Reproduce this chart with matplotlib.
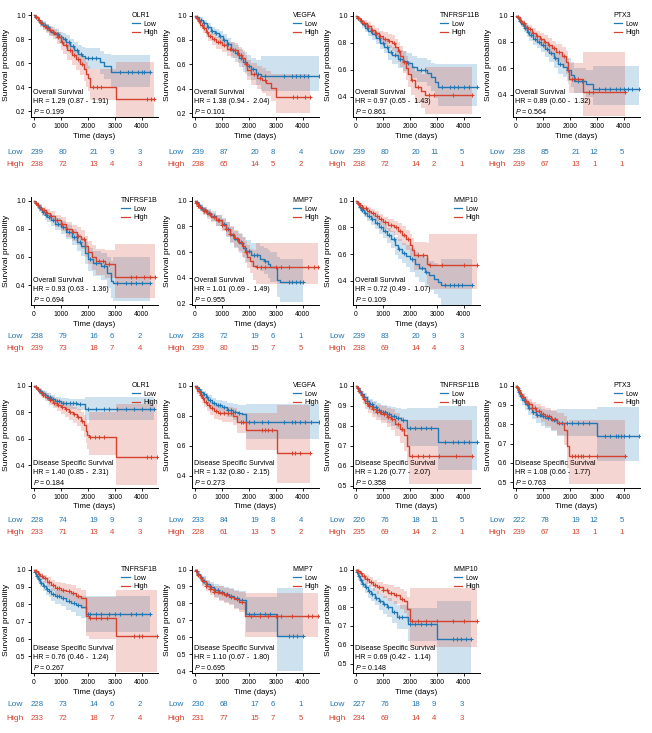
import numpy as np
import matplotlib
matplotlib.use("Agg")
import matplotlib.pyplot as plt
from matplotlib.lines import Line2D
from matplotlib.ticker import MultipleLocator, FormatStrFormatter

plt.rcParams["font.family"] = ["Liberation Sans", "DejaVu Sans"]
plt.rcParams["mathtext.fontset"] = "custom"
plt.rcParams["mathtext.it"] = "Liberation Sans:italic"
plt.rcParams["mathtext.rm"] = "Liberation Sans"

LOW_C = "#2278b5"
HIGH_C = "#d4432f"

GENES = ["OLR1", "VEGFA", "TNFRSF11B", "PTX3", "TNFRSF1B", "MMP7", "MMP10"]
ENDPOINTS = ["Overall Survival", "Disease Specific Survival"]

# HR (ci low, ci high), p
HR_OS = [("1.29", "0.87", "1.91"), ("1.38", "0.94", "2.04"), ("0.97", "0.65", "1.43"),
         ("0.89", "0.60", "1.32"), ("0.93", "0.63", "1.36"), ("1.01", "0.69", "1.49"),
         ("0.72", "0.49", "1.07")]
P_OS = ["0.199", "0.101", "0.861", "0.564", "0.694", "0.955", "0.109"]
HR_DSS = [("1.40", "0.85", "2.31"), ("1.32", "0.80", "2.15"), ("1.26", "0.77", "2.07"),
          ("1.08", "0.66", "1.77"), ("0.76", "0.46", "1.24"), ("1.10", "0.67", "1.80"),
          ("0.69", "0.42", "1.14")]
P_DSS = ["0.184", "0.273", "0.358", "0.763", "0.267", "0.695", "0.148"]

# numbers at risk at 0/1000/2000/3000/4000 days
RISK_OS_LOW = [[239, 80, 21, 9, 3], [239, 87, 20, 8, 4], [239, 80, 20, 11, 5], [238, 85, 21, 12, 5],
               [238, 79, 16, 6, 2], [238, 72, 19, 6, 1], [239, 83, 20, 9, 3]]
RISK_OS_HIGH = [[238, 72, 13, 4, 3], [238, 65, 14, 5, 2], [238, 72, 14, 2, 1], [239, 67, 13, 1, 1],
                [239, 73, 18, 7, 4], [239, 80, 15, 7, 5], [238, 69, 14, 4, 3]]
RISK_DSS_LOW = [[228, 74, 19, 9, 3], [233, 84, 19, 8, 4], [226, 76, 18, 11, 5], [222, 78, 19, 12, 5],
                [228, 73, 14, 6, 2], [230, 68, 17, 6, 1], [227, 76, 18, 9, 3]]
RISK_DSS_HIGH = [[233, 71, 13, 4, 3], [228, 61, 13, 5, 2], [235, 69, 14, 2, 1], [239, 67, 13, 1, 1],
                 [233, 72, 18, 7, 4], [231, 77, 15, 7, 5], [234, 69, 14, 4, 3]]

# axis bottoms / tick steps per panel
YLO_OS = [0.15, 0.17, 0.25, 0.23, 0.26, 0.19, 0.22]
YLO_DSS = [0.23, 0.32, 0.49, 0.47, 0.405, 0.39, 0.45]
YSTEP_OS = [0.2] * 7
YSTEP_DSS = [0.2, 0.2, 0.1, 0.1, 0.1, 0.1, 0.1]

# ---- KM steps: (time, surv, ci_lo, ci_hi); censor times ----
OS_OLR1_LOW = [(0, 1, 1, 1), (60, .985, .97, 1), (150, .965, .94, .985), (250, .94, .91, .965), (350, .92, .89, .95),
               (450, .90, .865, .93), (550, .88, .84, .915), (650, .865, .825, .90), (800, .845, .80, .885),
               (950, .82, .77, .865), (1100, .80, .745, .85), (1200, .78, .72, .835), (1350, .745, .68, .805),
               (1500, .715, .645, .78), (1650, .68, .60, .755), (1800, .66, .575, .74), (1900, .64, .55, .725),
               (2450, .61, .51, .705), (2600, .575, .47, .68), (2850, .53, .40, .67)]
OS_OLR1_LOW_CENS = [100, 200, 300, 420, 520, 600, 700, 850, 900, 1000, 1150, 1300, 1450, 1600, 1750, 2000, 2150,
                    2300, 3200, 3500, 3650, 3850, 4000, 4100, 4300]
OS_OLR1_HIGH = [(0, 1, 1, 1), (60, .985, .97, 1), (150, .96, .935, .985), (250, .935, .905, .96), (350, .915, .88, .945),
                (450, .895, .855, .93), (550, .875, .83, .91), (700, .85, .80, .89), (850, .82, .765, .865),
                (1000, .78, .715, .835), (1100, .75, .68, .81), (1250, .71, .63, .78), (1400, .67, .585, .745),
                (1550, .635, .545, .715), (1700, .595, .50, .68), (1850, .55, .45, .64), (1950, .51, .405, .61),
                (2020, .475, .37, .58), (2080, .405, .29, .55), (3050, .30, .15, .61)]
OS_OLR1_HIGH_CENS = [80, 180, 280, 400, 500, 620, 750, 900, 1050, 1200, 1350, 1500, 1650, 1800, 2200, 2350, 2500,
                     4200, 4330, 4450]

OS_VEGFA_LOW = [(0, 1, 1, 1), (60, .985, .97, 1), (150, .965, .945, .985), (300, .935, .91, .96), (450, .905, .875, .935),
                (600, .875, .84, .91), (750, .855, .815, .89), (900, .83, .785, .87), (1050, .80, .75, .845),
                (1200, .765, .71, .815), (1350, .72, .655, .78), (1500, .69, .62, .755), (1650, .655, .58, .725),
                (1800, .62, .54, .70), (1950, .59, .505, .675), (2100, .56, .47, .655), (2270, .525, .43, .64),
                (2450, .505, .38, .67)]
OS_VEGFA_LOW_CENS = [100, 220, 350, 500, 650, 800, 950, 1100, 1250, 1400, 1550, 1700, 1850, 2000, 2150, 2350, 2600,
                     3300, 3600, 3750, 3900, 4050, 4200, 4600]
OS_VEGFA_HIGH = [(0, 1, 1, 1), (50, .98, .965, .995), (120, .955, .93, .975), (200, .925, .895, .95), (300, .895, .86, .925),
                 (400, .865, .825, .90), (500, .835, .79, .875), (650, .805, .755, .85), (800, .78, .73, .825),
                 (1000, .755, .70, .805), (1200, .73, .67, .785), (1400, .715, .65, .775), (1600, .68, .61, .745),
                 (1750, .65, .575, .72), (1850, .60, .52, .68), (1950, .555, .47, .64), (2100, .52, .43, .61),
                 (2300, .49, .40, .585), (2500, .47, .37, .57), (2650, .445, .34, .55), (2820, .41, .30, .525),
                 (3000, .33, .20, .52)]
OS_VEGFA_HIGH_CENS = [80, 160, 260, 350, 450, 550, 700, 850, 950, 1100, 1300, 1500, 1700, 1900, 2200, 2400, 2600,
                      3650, 3800, 4100, 4250]

OS_TNFRSF11B_LOW = [(0, 1, 1, 1), (60, .985, .97, 1), (150, .96, .94, .98), (250, .935, .91, .96), (350, .91, .88, .94),
                    (450, .885, .85, .915), (600, .86, .82, .895), (750, .835, .79, .875), (900, .80, .755, .845),
                    (1050, .77, .72, .82), (1200, .73, .67, .785), (1350, .705, .64, .765), (1550, .68, .61, .745),
                    (1750, .665, .59, .735), (1880, .65, .57, .725), (2100, .62, .535, .70), (2250, .60, .51, .685),
                    (2650, .575, .48, .67), (2800, .545, .44, .65), (2950, .51, .39, .645), (3050, .47, .33, .645)]
OS_TNFRSF11B_LOW_CENS = [100, 200, 300, 400, 550, 700, 850, 1000, 1150, 1300, 1450, 1650, 1950, 2400, 2550, 3200,
                         3500, 3650, 3800, 4000, 4200, 4500]
OS_TNFRSF11B_HIGH = [(0, 1, 1, 1), (60, .985, .97, 1), (150, .965, .945, .985), (250, .945, .92, .97), (400, .92, .89, .95),
                     (550, .895, .86, .93), (700, .87, .825, .91), (850, .845, .80, .885), (1000, .83, .78, .875),
                     (1200, .815, .76, .865), (1350, .80, .74, .855), (1450, .765, .695, .83), (1550, .735, .66, .805),
                     (1650, .70, .62, .775), (1750, .66, .575, .74), (1850, .615, .52, .70), (1950, .57, .47, .665),
                     (2050, .52, .41, .625), (2200, .47, .355, .59), (2400, .44, .32, .57), (2550, .41, .27, .62)]
OS_TNFRSF11B_HIGH_CENS = [80, 180, 300, 450, 600, 750, 900, 1100, 1250, 1400, 1600, 1800, 2100, 2300, 2700, 2900,
                          3600, 4300]

OS_PTX3_LOW = [(0, 1, 1, 1), (50, .985, .97, 1), (120, .96, .94, .98), (200, .935, .91, .96), (300, .905, .875, .935),
               (400, .875, .84, .91), (500, .85, .81, .885), (650, .825, .78, .865), (800, .80, .75, .845),
               (950, .775, .72, .825), (1100, .745, .685, .80), (1250, .715, .65, .775), (1400, .675, .605, .74),
               (1550, .635, .56, .705), (1750, .61, .53, .69), (1900, .59, .505, .675), (2050, .55, .46, .645),
               (2150, .505, .41, .605), (2600, .48, .38, .59), (2850, .445, .32, .62)]
OS_PTX3_LOW_CENS = [90, 170, 260, 350, 450, 560, 700, 850, 1000, 1150, 1300, 1450, 1650, 1950, 2300, 2450, 3100,
                    3300, 3500, 3700, 3850, 4000, 4150, 4300, 4550]
OS_PTX3_HIGH = [(0, 1, 1, 1), (60, .985, .97, 1), (150, .96, .94, .98), (250, .94, .915, .965), (350, .915, .885, .945),
                (450, .895, .86, .93), (600, .87, .83, .905), (750, .845, .80, .885), (900, .825, .775, .87),
                (1050, .80, .745, .85), (1200, .775, .715, .83), (1350, .75, .685, .81), (1500, .72, .645, .785),
                (1700, .69, .61, .76), (1850, .65, .56, .73), (1920, .58, .48, .68), (1980, .52, .41, .64),
                (2500, .42, .24, .72)]
OS_PTX3_HIGH_CENS = [80, 200, 300, 400, 520, 650, 800, 950, 1100, 1250, 1400, 1600, 1800, 2100, 2200, 2300, 2700,
                     2850, 4050]

OS_TNFRSF1B_LOW = [(0, 1, 1, 1), (50, .985, .97, 1), (120, .965, .945, .985), (200, .945, .92, .97), (300, .92, .89, .945),
                   (400, .90, .865, .93), (500, .88, .845, .915), (650, .86, .82, .895), (800, .835, .79, .875),
                   (1000, .81, .76, .855), (1200, .78, .725, .83), (1400, .745, .685, .80), (1600, .705, .64, .765),
                   (1750, .68, .61, .745), (1900, .63, .55, .705), (2000, .585, .50, .665), (2200, .555, .465, .64),
                   (2500, .535, .44, .625), (2700, .49, .38, .60), (2850, .43, .31, .57), (2950, .415, .29, .60)]
OS_TNFRSF1B_LOW_CENS = [80, 150, 250, 350, 450, 550, 700, 900, 1100, 1300, 1500, 1700, 2100, 2300, 2600, 3100, 3400,
                        3600, 3800, 4000, 4300]
OS_TNFRSF1B_HIGH = [(0, 1, 1, 1), (50, .985, .97, 1), (120, .97, .95, .99), (200, .95, .925, .975), (300, .93, .90, .955),
                    (450, .91, .88, .94), (600, .89, .855, .925), (800, .86, .815, .90), (1000, .835, .785, .88),
                    (1200, .80, .745, .85), (1400, .775, .715, .83), (1600, .75, .685, .81), (1750, .73, .66, .79),
                    (1900, .68, .60, .75), (2000, .635, .55, .71), (2150, .60, .51, .685), (2300, .57, .475, .66),
                    (2650, .55, .45, .65), (3000, .455, .31, .69)]
OS_TNFRSF1B_HIGH_CENS = [70, 160, 260, 380, 500, 650, 850, 1050, 1250, 1450, 1650, 1850, 2400, 2550, 2800, 3600,
                         3800, 4100, 4300, 4500]

OS_MMP7_LOW = [(0, 1, 1, 1), (50, .985, .97, 1), (120, .965, .945, .985), (200, .945, .92, .97), (300, .925, .895, .95),
               (450, .905, .87, .935), (600, .88, .84, .915), (800, .85, .805, .89), (1000, .82, .77, .865),
               (1150, .78, .72, .835), (1300, .735, .67, .795), (1450, .70, .63, .765), (1650, .67, .595, .74),
               (1800, .635, .555, .715), (1900, .61, .525, .695), (2100, .575, .485, .67), (2400, .55, .455, .645),
               (2550, .53, .43, .63), (2700, .505, .40, .615), (2800, .485, .37, .60), (3050, .38, .25, .56),
               (3150, .37, .21, .55)]
OS_MMP7_LOW_CENS = [90, 170, 260, 380, 520, 700, 900, 1100, 1250, 1400, 1550, 1750, 2000, 2200, 2300, 2600, 3500,
                    3600, 3750, 3900, 4000]
OS_MMP7_HIGH = [(0, 1, 1, 1), (50, .98, .965, .995), (120, .96, .94, .98), (200, .94, .915, .965), (300, .92, .89, .95),
                (450, .895, .86, .93), (600, .87, .83, .905), (800, .845, .80, .885), (1000, .81, .76, .855),
                (1150, .78, .725, .83), (1300, .74, .675, .80), (1450, .71, .64, .77), (1600, .68, .61, .75),
                (1750, .645, .565, .72), (1850, .60, .515, .685), (1950, .565, .475, .655), (2050, .53, .44, .625),
                (2150, .49, .385, .62), (2250, .485, .35, .67)]
OS_MMP7_HIGH_CENS = [60, 140, 230, 330, 420, 550, 700, 850, 1000, 1150, 1300, 1500, 1700, 1900, 2300, 2450, 2600,
                     3000, 3200, 3500, 4200, 4400, 4550]

OS_MMP10_LOW = [(0, 1, 1, 1), (50, .98, .965, .995), (120, .955, .935, .975), (200, .93, .905, .955), (300, .905, .875, .935),
                (400, .885, .85, .915), (550, .86, .82, .895), (700, .83, .785, .87), (850, .80, .75, .845),
                (1000, .775, .72, .825), (1150, .74, .68, .795), (1300, .71, .645, .77), (1450, .665, .595, .73),
                (1550, .64, .565, .71), (1700, .61, .53, .685), (1850, .585, .50, .665), (2000, .56, .47, .645),
                (2200, .525, .43, .615), (2350, .495, .395, .59), (2550, .47, .365, .57), (2700, .445, .335, .55),
                (2900, .415, .30, .53), (3050, .395, .27, .52), (3150, .37, .22, .56)]
OS_MMP10_LOW_CENS = [80, 160, 250, 350, 480, 620, 780, 920, 1080, 1250, 1400, 1600, 1800, 2100, 2450, 2600, 3300,
                     3500, 3650, 3800, 3950, 4300]
OS_MMP10_HIGH = [(0, 1, 1, 1), (60, .985, .97, 1), (150, .965, .945, .985), (250, .945, .92, .97), (400, .925, .895, .95),
                 (550, .905, .87, .935), (700, .885, .845, .92), (850, .86, .815, .90), (1000, .84, .79, .88),
                 (1200, .82, .765, .865), (1400, .80, .74, .85), (1550, .77, .70, .83), (1700, .745, .67, .81),
                 (1850, .71, .63, .78), (2000, .67, .58, .75), (2100, .63, .53, .72), (2150, .59, .48, .69),
                 (2650, .525, .38, .68), (2700, .52, .34, .75)]
OS_MMP10_HIGH_CENS = [70, 170, 280, 380, 500, 650, 800, 950, 1100, 1300, 1500, 1650, 1800, 1950, 2300, 2500, 2750,
                      3200, 4000, 4500]

DSS_OLR1_LOW = [(0, 1, 1, 1), (50, .99, .98, 1), (120, .975, .96, .99), (200, .96, .94, .98), (300, .945, .92, .965),
                (400, .93, .90, .955), (500, .915, .885, .94), (650, .895, .86, .925), (800, .88, .84, .91),
                (1000, .87, .83, .905), (1300, .865, .82, .90), (1600, .86, .815, .90), (1880, .82, .74, .91)]
DSS_OLR1_LOW_CENS = [80, 150, 230, 320, 420, 520, 600, 700, 850, 950, 1100, 1200, 1350, 1450, 1550, 1700, 2000, 2300,
                     2600, 2800, 3100, 3400, 3700, 4000, 4300, 4450]
DSS_OLR1_HIGH = [(0, 1, 1, 1), (50, .99, .98, 1), (120, .97, .955, .985), (200, .95, .93, .97), (300, .93, .905, .955),
                 (400, .91, .88, .94), (550, .89, .855, .92), (700, .87, .83, .905), (850, .85, .805, .89),
                 (1000, .835, .785, .88), (1150, .82, .765, .865), (1300, .80, .74, .85), (1450, .785, .72, .84),
                 (1600, .765, .695, .825), (1750, .735, .66, .80), (1850, .70, .615, .775), (1920, .66, .565, .745),
                 (1980, .63, .525, .72), (2050, .615, .48, .80), (3050, .465, .25, .86)]
DSS_OLR1_HIGH_CENS = [70, 160, 260, 360, 480, 600, 750, 900, 1050, 1200, 1350, 1500, 1650, 1800, 2100, 2250, 2400,
                      2600, 4200, 4350, 4550]

DSS_VEGFA_LOW = [(0, 1, 1, 1), (50, .99, .98, 1), (120, .975, .96, .99), (200, .96, .94, .98), (300, .945, .92, .965),
                 (400, .925, .90, .95), (500, .905, .875, .935), (650, .885, .85, .915), (800, .87, .83, .905),
                 (1000, .855, .81, .895), (1200, .84, .79, .885), (1400, .825, .77, .875), (1600, .815, .755, .87),
                 (1750, .81, .745, .87), (1890, .755, .645, .88)]
DSS_VEGFA_LOW_CENS = [80, 160, 250, 350, 450, 560, 700, 850, 950, 1100, 1250, 1350, 1500, 1650, 2000, 2200, 2500, 2700,
                      3300, 3600, 3700, 3900, 4100, 4300, 4600]
DSS_VEGFA_HIGH = [(0, 1, 1, 1), (40, .985, .97, 1), (100, .965, .945, .985), (180, .94, .915, .96), (260, .915, .885, .94),
                  (350, .89, .855, .92), (450, .87, .83, .905), (550, .85, .805, .89), (700, .83, .78, .87),
                  (850, .82, .77, .865), (1000, .815, .76, .86), (1400, .80, .74, .85), (1550, .76, .685, .82),
                  (1900, .705, .57, .82), (3050, .555, .35, .87)]
DSS_VEGFA_HIGH_CENS = [70, 150, 230, 320, 420, 520, 650, 800, 950, 1100, 1250, 1350, 1700, 1800, 2500, 2600, 2700,
                       2850, 3600, 3700, 3900, 4250]

DSS_TNFRSF11B_LOW = [(0, 1, 1, 1), (50, .99, .98, 1), (120, .975, .96, .99), (200, .96, .945, .975), (300, .945, .925, .965),
                     (400, .925, .90, .95), (500, .91, .88, .935), (650, .895, .86, .925), (800, .88, .845, .915),
                     (950, .87, .83, .905), (1150, .86, .815, .90), (1320, .85, .80, .895), (1500, .84, .785, .89),
                     (1690, .83, .77, .885), (1880, .79, .70, .89), (3050, .72, .58, .90)]
DSS_TNFRSF11B_LOW_CENS = [80, 150, 230, 320, 420, 520, 620, 750, 880, 1000, 1100, 1250, 1400, 1550, 1750, 2000, 2200,
                          2400, 2600, 2800, 3300, 3600, 3800, 4000, 4200, 4500]
DSS_TNFRSF11B_HIGH = [(0, 1, 1, 1), (40, .99, .98, 1), (100, .975, .96, .99), (180, .955, .935, .975), (260, .935, .91, .96),
                      (350, .915, .885, .94), (450, .90, .865, .93), (600, .885, .845, .92), (750, .87, .83, .905),
                      (950, .86, .815, .90), (1150, .845, .795, .89), (1320, .835, .78, .885), (1450, .81, .75, .865),
                      (1630, .785, .715, .845), (1790, .755, .675, .825), (1880, .70, .605, .785), (1960, .65, .51, .83)]
DSS_TNFRSF11B_HIGH_CENS = [70, 140, 220, 300, 400, 500, 650, 800, 900, 1050, 1200, 1350, 1550, 1700, 2100, 2300, 2500,
                           2700, 3100, 3700, 4300]

DSS_PTX3_LOW = [(0, 1, 1, 1), (40, .985, .97, 1), (100, .965, .945, .985), (170, .945, .92, .965), (250, .925, .90, .95),
                (350, .905, .875, .93), (450, .885, .85, .915), (600, .865, .825, .90), (750, .85, .805, .89),
                (925, .84, .79, .88), (1100, .83, .78, .875), (1300, .82, .765, .87), (1540, .805, .74, .88),
                (3000, .74, .61, .89)]
DSS_PTX3_LOW_CENS = [70, 140, 210, 300, 400, 500, 650, 800, 900, 1000, 1200, 1400, 1700, 1900, 2100, 2300, 2500, 2700,
                     3300, 3500, 3700, 3800, 3900, 4000, 4200, 4550]
DSS_PTX3_HIGH = [(0, 1, 1, 1), (40, .99, .98, 1), (100, .975, .96, .99), (170, .955, .935, .975), (250, .94, .915, .96),
                 (350, .92, .895, .945), (450, .905, .875, .93), (600, .885, .85, .915), (750, .87, .83, .905),
                 (925, .855, .81, .895), (1100, .84, .79, .885), (1300, .825, .77, .875), (1540, .805, .745, .86),
                 (1770, .77, .69, .84), (1890, .685, .575, .79), (1980, .635, .49, .82)]
DSS_PTX3_HIGH_CENS = [60, 130, 200, 280, 380, 480, 600, 700, 850, 1000, 1150, 1250, 1350, 1450, 1600, 2100, 2200,
                      2300, 2400, 2500, 2700, 3000, 4050]

DSS_TNFRSF1B_LOW = [(0, 1, 1, 1), (40, .985, .97, 1), (100, .965, .945, .985), (170, .945, .92, .965), (250, .925, .90, .95),
                    (350, .905, .875, .935), (450, .89, .855, .92), (550, .875, .84, .91), (650, .86, .82, .895),
                    (800, .845, .80, .885), (1000, .835, .79, .875), (1200, .82, .77, .865), (1375, .81, .755, .86),
                    (1550, .795, .735, .85), (1750, .785, .72, .845), (1940, .745, .64, .85)]
DSS_TNFRSF1B_LOW_CENS = [60, 130, 200, 280, 380, 480, 580, 700, 850, 950, 1100, 1300, 1500, 1650, 2000, 2100, 2300,
                         2500, 2800, 3000, 3200, 3600, 3800, 4000, 4300]
DSS_TNFRSF1B_HIGH = [(0, 1, 1, 1), (50, .99, .98, 1), (150, .975, .96, .99), (250, .96, .94, .98), (350, .95, .925, .97),
                     (500, .93, .90, .955), (650, .91, .875, .94), (800, .895, .855, .93), (1000, .885, .84, .92),
                     (1200, .875, .825, .915), (1375, .865, .815, .91), (1550, .85, .795, .895), (1750, .835, .775, .885),
                     (1940, .73, .62, .84), (2060, .72, .60, .84), (3050, .615, .41, .88)]
DSS_TNFRSF1B_HIGH_CENS = [80, 180, 300, 420, 560, 700, 850, 950, 1100, 1300, 1450, 1650, 2100, 2300, 2500, 2700,
                          3700, 3900, 4000, 4550]

DSS_MMP7_LOW = [(0, 1, 1, 1), (40, .99, .98, 1), (100, .975, .96, .99), (180, .955, .935, .975), (280, .935, .91, .96),
                (400, .915, .885, .94), (550, .895, .86, .925), (700, .88, .84, .915), (900, .865, .82, .90),
                (1100, .855, .81, .895), (1270, .845, .795, .89), (1450, .83, .775, .88), (1640, .82, .76, .875),
                (1890, .735, .63, .84), (3050, .61, .40, .89)]
DSS_MMP7_LOW_CENS = [70, 140, 230, 330, 450, 600, 750, 850, 1000, 1200, 1350, 1550, 1750, 2000, 2200, 2400, 2600,
                     2800, 3500, 3650, 3800, 4000]
DSS_MMP7_HIGH = [(0, 1, 1, 1), (40, .99, .98, 1), (100, .97, .955, .985), (180, .95, .93, .97), (280, .93, .905, .955),
                 (400, .905, .875, .935), (550, .885, .85, .915), (700, .87, .83, .905), (900, .86, .815, .90),
                 (1100, .85, .80, .89), (1270, .84, .79, .885), (1450, .825, .77, .875), (1640, .81, .75, .865),
                 (1860, .725, .60, .86)]
DSS_MMP7_HIGH_CENS = [60, 130, 220, 320, 430, 580, 720, 850, 1000, 1150, 1350, 1550, 1750, 2100, 2400, 2700, 3000,
                      3200, 3600, 4200, 4350, 4550]

DSS_MMP10_LOW = [(0, 1, 1, 1), (40, .985, .97, 1), (100, .965, .945, .985), (170, .945, .92, .965), (250, .925, .90, .95),
                 (350, .905, .875, .935), (450, .885, .85, .915), (550, .87, .835, .90), (700, .85, .81, .885),
                 (850, .83, .785, .87), (1000, .815, .765, .86), (1150, .80, .745, .85), (1330, .775, .715, .83),
                 (1520, .75, .685, .81), (1920, .71, .62, .795), (3000, .63, .45, .83)]
DSS_MMP10_LOW_CENS = [60, 130, 200, 280, 380, 480, 600, 750, 900, 1050, 1200, 1400, 1600, 1700, 2000, 2200, 2400,
                      2600, 2800, 3600, 3750, 3900, 4100, 4250]
DSS_MMP10_HIGH = [(0, 1, 1, 1), (50, .99, .98, 1), (150, .98, .965, .99), (250, .965, .945, .98), (350, .95, .925, .97),
                  (500, .935, .905, .96), (650, .92, .885, .945), (800, .905, .87, .935), (1000, .89, .85, .925),
                  (1200, .875, .83, .915), (1400, .865, .815, .905), (1640, .845, .79, .895), (1770, .83, .77, .885),
                  (1890, .79, .72, .855), (2000, .725, .59, .90)]
DSS_MMP10_HIGH_CENS = [80, 180, 300, 430, 560, 700, 850, 1000, 1150, 1300, 1500, 1700, 2100, 2300, 2600, 3000, 3600,
                       4000, 4500]

OS_CURVES = [
    (OS_OLR1_LOW, OS_OLR1_LOW_CENS, OS_OLR1_HIGH, OS_OLR1_HIGH_CENS),
    (OS_VEGFA_LOW, OS_VEGFA_LOW_CENS, OS_VEGFA_HIGH, OS_VEGFA_HIGH_CENS),
    (OS_TNFRSF11B_LOW, OS_TNFRSF11B_LOW_CENS, OS_TNFRSF11B_HIGH, OS_TNFRSF11B_HIGH_CENS),
    (OS_PTX3_LOW, OS_PTX3_LOW_CENS, OS_PTX3_HIGH, OS_PTX3_HIGH_CENS),
    (OS_TNFRSF1B_LOW, OS_TNFRSF1B_LOW_CENS, OS_TNFRSF1B_HIGH, OS_TNFRSF1B_HIGH_CENS),
    (OS_MMP7_LOW, OS_MMP7_LOW_CENS, OS_MMP7_HIGH, OS_MMP7_HIGH_CENS),
    (OS_MMP10_LOW, OS_MMP10_LOW_CENS, OS_MMP10_HIGH, OS_MMP10_HIGH_CENS),
]
DSS_CURVES = [
    (DSS_OLR1_LOW, DSS_OLR1_LOW_CENS, DSS_OLR1_HIGH, DSS_OLR1_HIGH_CENS),
    (DSS_VEGFA_LOW, DSS_VEGFA_LOW_CENS, DSS_VEGFA_HIGH, DSS_VEGFA_HIGH_CENS),
    (DSS_TNFRSF11B_LOW, DSS_TNFRSF11B_LOW_CENS, DSS_TNFRSF11B_HIGH, DSS_TNFRSF11B_HIGH_CENS),
    (DSS_PTX3_LOW, DSS_PTX3_LOW_CENS, DSS_PTX3_HIGH, DSS_PTX3_HIGH_CENS),
    (DSS_TNFRSF1B_LOW, DSS_TNFRSF1B_LOW_CENS, DSS_TNFRSF1B_HIGH, DSS_TNFRSF1B_HIGH_CENS),
    (DSS_MMP7_LOW, DSS_MMP7_LOW_CENS, DSS_MMP7_HIGH, DSS_MMP7_HIGH_CENS),
    (DSS_MMP10_LOW, DSS_MMP10_LOW_CENS, DSS_MMP10_HIGH, DSS_MMP10_HIGH_CENS),
]

RISK_T = [130, 1070, 2220, 2900, 3930]   # where the at-risk numbers sit
XLIM = (-100, 4600)

# ---- layout (pixels) ----
W, H = 652, 733
COL_X = [31, 192, 353, 513]
AX_W = 127
ROW_Y = [(12, 117), (197, 305), (382, 488), (566, 673)]
RISK_OFF = [(36, 47), (31, 43), (33, 45), (32, 45)]   # px below the x axis


def km_curve(ax, steps, cens, color):
    arr = np.array(steps, dtype=float)
    t, s, lo, hi = arr.T
    end = max(cens)
    tx = np.append(t, end)
    ax.fill_between(tx, np.append(lo, lo[-1]), np.append(hi, hi[-1]), step="post",
                    color=color, alpha=0.22, lw=0)
    ax.step(tx, np.append(s, s[-1]), where="post", color=color, lw=1.0)
    c = np.array(cens, dtype=float)
    idx = np.searchsorted(t, c, side="right") - 1
    ax.plot(c, s[idx], ls="none", marker="+", ms=3.4, mew=0.75, color=color)


def panel(fig, row, col, gene, endpoint, curves, hr, p, ylo, ystep, risk_lo, risk_hi):
    top, bot = ROW_Y[row]
    h = bot - top
    ax = fig.add_axes([COL_X[col] / W, 1 - bot / H, AX_W / W, h / H])
    low, low_c, high, high_c = curves
    km_curve(ax, low, low_c, LOW_C)
    km_curve(ax, high, high_c, HIGH_C)

    ax.set_xlim(*XLIM)
    yhi = 1 + 3.5 / (h - 3.5) * (1 - ylo)
    ax.set_ylim(ylo, yhi)
    ax.set_xticks([0, 1000, 2000, 3000, 4000])
    ax.yaxis.set_major_locator(MultipleLocator(ystep))
    ax.yaxis.set_major_formatter(FormatStrFormatter("%.1f"))
    for sp in ["top", "right"]:
        ax.spines[sp].set_visible(False)
    for sp in ["left", "bottom"]:
        ax.spines[sp].set_linewidth(0.7)
    ax.tick_params(length=2.5, width=0.6, labelsize=4.9, pad=1.5)

    ax.set_xlabel("Time (days)", fontsize=5.8)
    ax.xaxis.set_label_coords(0.5, -15.5 / h)
    ax.set_ylabel("Survival probability", fontsize=6.1)
    ax.yaxis.set_label_coords(-21 / AX_W, 0.5)

    ax.text(0.012, 0.012,
            f"{endpoint}\nHR = {hr[0]} ({hr[1]} -  {hr[2]})\n$P$ = {p}",
            transform=ax.transAxes, fontsize=5.1, ha="left", va="bottom", linespacing=1.3)

    handles = [Line2D([], [], color=LOW_C, lw=0.9), Line2D([], [], color=HIGH_C, lw=0.9)]
    ax.legend(handles, ["Low", "High"], title=gene, loc="upper right",
              bbox_to_anchor=(1.0, 1.0), frameon=False, fontsize=5, title_fontsize=5,
              handlelength=1.2, handletextpad=0.5, labelspacing=0.25, borderpad=0,
              borderaxespad=0, alignment="left")

    # numbers at risk under the axis
    off_lo, off_hi = RISK_OFF[row]
    for lab, nums, color, off in [("Low", risk_lo, LOW_C, off_lo), ("High", risk_hi, HIGH_C, off_hi)]:
        ax.annotate(lab, xy=(0, 0), xycoords="axes fraction", xytext=(-15.5 * 0.72, -off * 0.72),
                    textcoords="offset points", ha="center", va="center", color=color,
                    fontsize=6, annotation_clip=False)
        for t, n in zip(RISK_T, nums):
            ax.annotate(str(n), xy=(t, 0), xycoords=("data", "axes fraction"),
                        xytext=(0, -off * 0.72), textcoords="offset points", ha="center",
                        va="center", color=color, fontsize=5.6, annotation_clip=False)
    return ax


fig = plt.figure(figsize=(W / 100, H / 100), dpi=100)

positions = [(0, 0), (0, 1), (0, 2), (0, 3), (1, 0), (1, 1), (1, 2)]
for i, gene in enumerate(GENES):
    r, c = positions[i]
    panel(fig, r, c, gene, ENDPOINTS[0], OS_CURVES[i], HR_OS[i], P_OS[i],
          YLO_OS[i], YSTEP_OS[i], RISK_OS_LOW[i], RISK_OS_HIGH[i])
    panel(fig, r + 2, c, gene, ENDPOINTS[1], DSS_CURVES[i], HR_DSS[i], P_DSS[i],
          YLO_DSS[i], YSTEP_DSS[i], RISK_DSS_LOW[i], RISK_DSS_HIGH[i])

fig.savefig("out.png", dpi=100, facecolor="white")
